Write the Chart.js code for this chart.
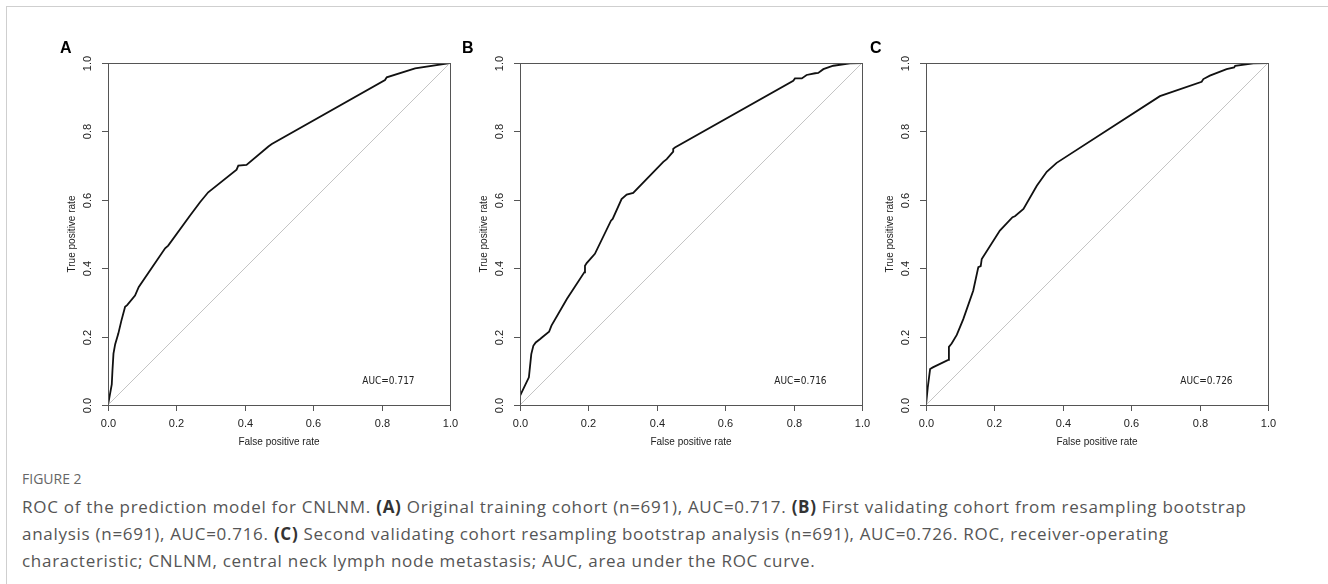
<!DOCTYPE html>
<html>
<head>
<meta charset="utf-8">
<script src="https://cdn.jsdelivr.net/npm/chart.js@4.4.1/dist/chart.umd.min.js"></script>
<style>
  html, body { margin: 0; padding: 0; background: #fff; }
  body { width: 1328px; height: 584px; position: relative; overflow: hidden; }
  .frame { position: absolute; left: 6px; top: 6px; width: 1330px; height: 600px;
           border-left: 1px solid #cfcfcf; border-top: 1px solid #cfcfcf; }
  canvas { position: absolute; }
  .letter { position: absolute; font: bold 16px "Liberation Sans", Arial, sans-serif; color: #000; }
  .fig { position: absolute; left: 22px; top: 469px; font: 14px "Open Sans", sans-serif; color: #666; }
  .caption { position: absolute; left: 22px; top: 493px; font: 17px/27px "Open Sans", sans-serif;
             letter-spacing: 0.72px; color: #555; white-space: nowrap; }
  .caption b { color: #333; }
</style>
</head>
<body>
<div class="frame"></div>
<canvas id="chartA" width="450" height="440" style="left:8px;top:20px"></canvas>
<canvas id="chartB" width="450" height="440" style="left:420px;top:20px"></canvas>
<canvas id="chartC" width="450" height="440" style="left:826px;top:20px"></canvas>
<div class="letter" style="left:60px;top:39px">A</div>
<div class="letter" style="left:462px;top:39px">B</div>
<div class="letter" style="left:870px;top:39px">C</div>
<div class="fig">FIGURE 2</div>
<div class="caption">ROC of the prediction model for CNLNM. <b>(A)</b> Original training cohort (n=691), AUC=0.717. <b>(B)</b> First validating cohort from resampling bootstrap<br>analysis (n=691), AUC=0.716. <b>(C)</b> Second validating cohort resampling bootstrap analysis (n=691), AUC=0.726. ROC, receiver-operating<br>characteristic; CNLNM, central neck lymph node metastasis; AUC, area under the ROC curve.</div>
<script>
// --- DATA ---
const tickValues = [0, 0.2, 0.4, 0.6, 0.8, 1.0];
const tickLabels = ['0.0', '0.2', '0.4', '0.6', '0.8', '1.0'];
const xTitle = 'False positive rate';
const yTitle = 'True positive rate';

const fprA = [0, 0.011, 0.013, 0.016, 0.021, 0.030, 0.039, 0.050, 0.056, 0.079, 0.090, 0.167, 0.176, 0.240, 0.269, 0.293, 0.376, 0.381, 0.405, 0.469, 0.479, 0.810, 0.815, 0.898, 1];
const tprA = [0, 0.060, 0.100, 0.150, 0.178, 0.208, 0.246, 0.287, 0.292, 0.320, 0.345, 0.458, 0.466, 0.554, 0.593, 0.622, 0.688, 0.700, 0.702, 0.756, 0.763, 0.950, 0.958, 0.984, 1];

const fprB = [0, 0, 0.026, 0.033, 0.039, 0.046, 0.059, 0.065, 0.085, 0.092, 0.137, 0.188, 0.190, 0.195, 0.219, 0.266, 0.271, 0.297, 0.312, 0.331, 0.419, 0.429, 0.448, 0.448, 0.453, 0.799, 0.804, 0.824, 0.838, 0.863, 0.872, 0.887, 0.916, 0.965, 1];
const tprB = [0, 0.027, 0.081, 0.149, 0.173, 0.183, 0.193, 0.198, 0.214, 0.232, 0.310, 0.388, 0.407, 0.415, 0.442, 0.539, 0.544, 0.602, 0.615, 0.620, 0.711, 0.719, 0.741, 0.749, 0.753, 0.948, 0.955, 0.955, 0.965, 0.970, 0.971, 0.982, 0.992, 0.999, 1];

const fprC = [0, 0.005, 0.012, 0.020, 0.065, 0.067, 0.075, 0.090, 0.109, 0.138, 0.153, 0.160, 0.163, 0.216, 0.253, 0.260, 0.285, 0.324, 0.353, 0.382, 0.684, 0.806, 0.811, 0.830, 0.879, 0.901, 0.904, 0.957, 1];
const tprC = [0, 0.050, 0.105, 0.110, 0.132, 0.170, 0.180, 0.205, 0.251, 0.334, 0.403, 0.406, 0.427, 0.510, 0.549, 0.552, 0.573, 0.641, 0.682, 0.708, 0.903, 0.945, 0.953, 0.963, 0.982, 0.987, 0.992, 0.999, 1];

const aucLabels = ['AUC=0.717', 'AUC=0.716', 'AUC=0.726'];
const diagFpr = [0, 1];
const diagTpr = [0, 1];

function toPoints(xs, ys) {
    return xs.map((x, i) => ({ x: x, y: ys[i] }));
}

// draws the R-style box, ticks and labels with the chart's own scales
const rAxes = {
    id: 'rAxes',
    afterDraw(chart, args, opts) {
        const ctx = chart.ctx;
        const { left, top, right, bottom } = chart.chartArea;
        const xs = chart.scales.x;
        const ys = chart.scales.y;
        ctx.save();
        ctx.strokeStyle = '#555';
        ctx.lineWidth = 1;
        ctx.strokeRect(Math.round(left) + 0.5, Math.round(top) + 0.5, Math.round(right - left), Math.round(bottom - top));

        ctx.fillStyle = '#222';
        ctx.font = '11px "Liberation Sans", Arial, sans-serif';
        ctx.textAlign = 'center';
        ctx.textBaseline = 'middle';
        tickValues.forEach((v, i) => {
            const px = Math.round(xs.getPixelForValue(v)) + 0.5;
            ctx.beginPath();
            ctx.moveTo(px, bottom);
            ctx.lineTo(px, bottom + 6);
            ctx.stroke();
            ctx.fillText(tickLabels[i], px, bottom + 19);

            const py = Math.round(ys.getPixelForValue(v)) + 0.5;
            ctx.beginPath();
            ctx.moveTo(left - 6, py);
            ctx.lineTo(left, py);
            ctx.stroke();
            ctx.save();
            ctx.translate(left - 20, py);
            ctx.rotate(-Math.PI / 2);
            ctx.fillText(tickLabels[i], 0, 0);
            ctx.restore();
        });

        ctx.font = '10px "Liberation Sans", Arial, sans-serif';
        ctx.fillText(xTitle, (left + right) / 2, bottom + 37);
        ctx.save();
        ctx.translate(left - 36, (top + bottom) / 2);
        ctx.rotate(-Math.PI / 2);
        ctx.fillText(yTitle, 0, 0);
        ctx.restore();

        ctx.font = '10px "Liberation Sans Narrow", "DejaVu Sans Condensed", Arial, sans-serif';
        ctx.fillText(opts.auc, xs.getPixelForValue(0.82), ys.getPixelForValue(0.07));
        ctx.restore();
    }
};

function makeChart(id, fpr, tpr, auc) {
    const ctx = document.getElementById(id).getContext('2d');
    return new Chart(ctx, {
        type: 'scatter',
        data: {
            datasets: [
                {
                    data: toPoints(diagFpr, diagTpr),
                    showLine: true,
                    borderColor: '#c4c4c4',
                    borderWidth: 1,
                    pointRadius: 0
                },
                {
                    data: toPoints(fpr, tpr),
                    showLine: true,
                    borderColor: '#111',
                    borderWidth: 1.8,
                    pointRadius: 0,
                    tension: 0
                }
            ]
        },
        options: {
            responsive: false,
            animation: false,
            devicePixelRatio: 1,
            layout: { padding: { left: 100, top: 43, right: 8, bottom: 55 } },
            plugins: {
                legend: { display: false },
                tooltip: { enabled: false },
                rAxes: { auc: auc }
            },
            scales: {
                x: { type: 'linear', min: 0, max: 1, display: false },
                y: { type: 'linear', min: 0, max: 1, display: false }
            }
        },
        plugins: [rAxes]
    });
}

makeChart('chartA', fprA, tprA, aucLabels[0]);
makeChart('chartB', fprB, tprB, aucLabels[1]);
makeChart('chartC', fprC, tprC, aucLabels[2]);
</script>
</body>
</html>
